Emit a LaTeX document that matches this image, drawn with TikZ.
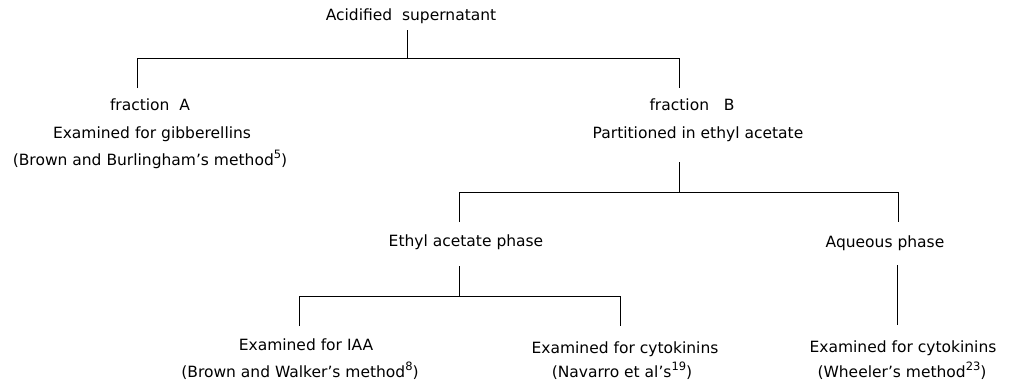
\documentclass[tikz,border=0pt]{standalone}
\usepackage{fontspec}
\setmainfont{DejaVu Sans}
\newcommand{\refsup}[1]{\raisebox{0.42em}{\fontsize{11.5}{12}\selectfont #1}}
\begin{document}
\begin{tikzpicture}[x=1pt,y=-1pt,
  lbl/.style={inner sep=0pt, anchor=base, font=\fontsize{15.5}{18}\selectfont},
  conn/.style={line width=1pt, black}]
\useasboundingbox (0,0) rectangle (1010,383);
% texts
\node[lbl] (acid) at (411,20) {Acidified\ \ supernatant};
\node[lbl] (fa) at (150,110) {fraction\ \ A};
\node[lbl] (fa2) at (152,138) {Examined for gibberellins};
\node[lbl] (fa3) at (150,165) {(Brown and Burlingham's method\refsup{5})};
\node[lbl] (fb) at (692,110) {fraction\ \ \ B};
\node[lbl] (fb2) at (698,138) {Partitioned in ethyl acetate};
\node[lbl] (eth) at (466,246) {Ethyl acetate phase};
\node[lbl] (aq) at (885,247) {Aqueous phase};
\node[lbl] (iaa) at (306,350) {Examined for IAA};
\node[lbl] (iaa2) at (300,377) {(Brown and Walker's method\refsup{8})};
\node[lbl] (cyt) at (625,353) {Examined for cytokinins};
\node[lbl] (cyt2) at (622,377) {(Navarro et al's\refsup{19})};
\node[lbl] (wh) at (903,352) {Examined for cytokinins};
\node[lbl] (wh2) at (902,377) {(Wheeler's method\refsup{23})};
% junction coordinates
\coordinate (a0) at (407,30);
\coordinate (a1) at (407,58);
\coordinate (aL) at (137,58);
\coordinate (aR) at (679,58);
\coordinate (aLe) at (137,88);
\coordinate (aRe) at (679,88);
\coordinate (b0) at (679,162);
\coordinate (b1) at (679,192);
\coordinate (bL) at (459,192);
\coordinate (bR) at (898,192);
\coordinate (bLe) at (459,222);
\coordinate (bRe) at (898,222);
\coordinate (c0) at (459,266);
\coordinate (c1) at (459,296);
\coordinate (cL) at (299,296);
\coordinate (cR) at (620,296);
\coordinate (cLe) at (299,326);
\coordinate (cRe) at (620,326);
\coordinate (d0) at (897,265);
\coordinate (d1) at (897,325);
% connectors
\draw[conn] (a0) -- (a1);
\draw[conn] (aLe) -- (aL) -- (aR) -- (aRe);
\draw[conn] (b0) -- (b1);
\draw[conn] (bLe) -- (bL) -- (bR) -- (bRe);
\draw[conn] (c0) -- (c1);
\draw[conn] (cLe) -- (cL) -- (cR) -- (cRe);
\draw[conn] (d0) -- (d1);
\end{tikzpicture}
\end{document}
